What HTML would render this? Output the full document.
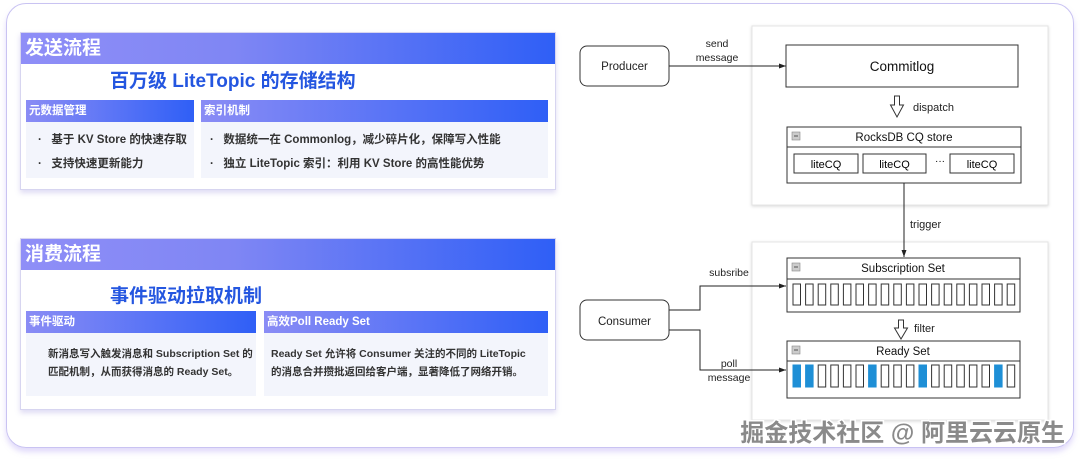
<!DOCTYPE html>
<html><head><meta charset="utf-8"><style>
*{margin:0;padding:0;box-sizing:border-box}
body{width:1080px;height:460px;background:#fff;position:relative;overflow:hidden;font-family:"Liberation Sans","Noto Sans CJK SC",sans-serif}
.frame{position:absolute;left:6px;top:3px;width:1068px;height:445px;border:1.5px solid #c9c3f2;border-radius:20px;box-shadow:0 4px 6px rgba(170,150,240,.35)}
.card{position:absolute;left:20px;width:536px;background:#fff;border:1px solid #d7d5f0;box-shadow:0 3px 5px rgba(150,140,220,.3)}
.hd{height:31px;background:linear-gradient(90deg,#8f8ef7,#7f86f4 40%,#2f5ff6);color:#fff;font-weight:bold;font-size:19px;line-height:31px;padding-left:4px}
.title{position:absolute;color:#2456e0;font-weight:bold;font-size:19px;white-space:nowrap}
.sh{position:absolute;height:22px;background:linear-gradient(90deg,#8a8cf5,#2f5ff6);color:#fff;font-weight:bold;font-size:11.5px;line-height:22px;padding-left:3px}
.bx{position:absolute;background:#f3f5fc}
.t{position:absolute;font-size:11.5px;font-weight:bold;color:#333;white-space:nowrap}
</style></head><body>
<div class="frame"></div>

<div class="card" style="top:32px;height:158px">
 <div class="hd">发送流程</div>
</div>
<div class="title" style="left:110px;top:66px">百万级 LiteTopic 的存储结构</div>
<div class="sh" style="left:26px;top:100px;width:168px">元数据管理</div>
<div class="sh" style="left:201px;top:100px;width:347px">索引机制</div>
<div class="bx" style="left:26px;top:122px;width:168px;height:56px"></div>
<div class="bx" style="left:201px;top:122px;width:347px;height:56px"></div>
<div class="t" style="left:38px;top:131px">·&nbsp;&nbsp;&nbsp;基于 KV Store 的快速存取</div>
<div class="t" style="left:38px;top:155px">·&nbsp;&nbsp;&nbsp;支持快速更新能力</div>
<div class="t" style="left:210px;top:131px">·&nbsp;&nbsp;&nbsp;数据统一在 Commonlog，减少碎片化，保障写入性能</div>
<div class="t" style="left:210px;top:155px">·&nbsp;&nbsp;&nbsp;独立 LiteTopic 索引：利用 KV Store 的高性能优势</div>

<div class="card" style="top:238px;height:172px">
 <div class="hd">消费流程</div>
</div>
<div class="title" style="left:110px;top:281px">事件驱动拉取机制</div>
<div class="sh" style="left:26px;top:311px;width:230px">事件驱动</div>
<div class="sh" style="left:264px;top:311px;width:284px">高效Poll Ready Set</div>
<div class="bx" style="left:26px;top:333px;width:230px;height:63px"></div>
<div class="bx" style="left:264px;top:333px;width:284px;height:63px"></div>
<div class="t" style="left:48px;top:346px;font-size:10.5px">新消息写入触发消息和 Subscription Set 的</div>
<div class="t" style="left:48px;top:364px;font-size:10.5px">匹配机制，从而获得消息的 Ready Set。</div>
<div class="t" style="left:271px;top:346px;font-size:10.5px">Ready Set 允许将 Consumer 关注的不同的 LiteTopic</div>
<div class="t" style="left:271px;top:364px;font-size:10.5px">的消息合并攒批返回给客户端，显著降低了网络开销。</div>

<svg style="position:absolute;left:0;top:0" width="1080" height="460" font-family="Liberation Sans, sans-serif">
<defs>
<marker id="a" markerWidth="8" markerHeight="8" refX="7" refY="4" orient="auto" markerUnits="userSpaceOnUse"><path d="M0,1.5 L7,4 L0,6.5z" fill="#222"/></marker>
<filter id="sh" x="-5%" y="-5%" width="110%" height="110%"><feDropShadow dx="0" dy="1" stdDeviation="1.5" flood-color="#000" flood-opacity=".15"/></filter>
</defs>
<rect x="752" y="26" width="296" height="179" fill="#fff" stroke="#e4e4e4" filter="url(#sh)"/>
<rect x="752" y="242" width="296" height="178" fill="#fff" stroke="#e4e4e4" filter="url(#sh)"/>
<rect x="580" y="46" width="89" height="40" rx="7" fill="#fff" stroke="#333"/>
<text x="624.5" y="70" font-size="11.5" text-anchor="middle" fill="#222">Producer</text>
<line x1="669" y1="66" x2="786" y2="66" stroke="#222" marker-end="url(#a)"/>
<text x="717" y="47" font-size="10.5" text-anchor="middle" fill="#222">send</text>
<text x="717" y="61" font-size="10.5" text-anchor="middle" fill="#222">message</text>
<rect x="786" y="45" width="232" height="42" fill="#fff" stroke="#333"/>
<text x="902" y="71" font-size="13.5" text-anchor="middle" fill="#111">Commitlog</text>
<path d="M894.5,96 h5 v9 h4 l-6.5,12 l-6.5,-12 h4z" fill="#fff" stroke="#333"/>
<text x="913" y="111" font-size="11" fill="#222">dispatch</text>
<rect x="787" y="127" width="234" height="56" fill="#fff" stroke="#333"/>
<line x1="787" y1="147" x2="1021" y2="147" stroke="#333"/>
<rect x="792" y="132" width="8" height="8" fill="#ccc" stroke="#888" stroke-width=".6"/><line x1="794" y1="136" x2="798" y2="136" stroke="#555"/>
<text x="904" y="141" font-size="11.5" text-anchor="middle" fill="#111">RocksDB CQ store</text>
<rect x="794" y="154" width="64" height="19" fill="#fff" stroke="#333"/><text x="826" y="168" font-size="11" text-anchor="middle">liteCQ</text>
<rect x="863" y="154" width="63" height="19" fill="#fff" stroke="#333"/><text x="894.5" y="168" font-size="11" text-anchor="middle">liteCQ</text>
<text x="940" y="164" font-size="10" text-anchor="middle">···</text>
<rect x="950" y="154" width="64" height="19" fill="#fff" stroke="#333"/><text x="982" y="168" font-size="11" text-anchor="middle">liteCQ</text>
<line x1="904" y1="183" x2="904" y2="257" stroke="#222" marker-end="url(#a)"/>
<text x="910" y="228" font-size="11" fill="#222">trigger</text>

<rect x="580" y="300" width="89" height="40" rx="7" fill="#fff" stroke="#333"/>
<text x="624.5" y="325" font-size="11.5" text-anchor="middle" fill="#222">Consumer</text>
<polyline points="669,310 700,310 700,286 786,286" fill="none" stroke="#222" marker-end="url(#a)"/>
<polyline points="669,330 700,330 700,370 786,370" fill="none" stroke="#222" marker-end="url(#a)"/>
<text x="729" y="276" font-size="10.5" text-anchor="middle" fill="#222">subsribe</text>
<text x="729" y="367" font-size="10.5" text-anchor="middle" fill="#222">poll</text>
<text x="729" y="381" font-size="10.5" text-anchor="middle" fill="#222">message</text>

<rect x="787" y="258" width="233" height="54" fill="#fff" stroke="#333"/>
<line x1="787" y1="279" x2="1020" y2="279" stroke="#333"/>
<rect x="792" y="263" width="8" height="8" fill="#ccc" stroke="#888" stroke-width=".6"/><line x1="794" y1="267" x2="798" y2="267" stroke="#555"/>
<text x="903" y="272" font-size="11.5" text-anchor="middle" fill="#111">Subscription Set</text>
<g fill="#fff" stroke="#333">
<rect x="793" y="284" width="7.5" height="21"/><rect x="805.6" y="284" width="7.5" height="21"/><rect x="818.2" y="284" width="7.5" height="21"/><rect x="830.8" y="284" width="7.5" height="21"/><rect x="843.4" y="284" width="7.5" height="21"/><rect x="856" y="284" width="7.5" height="21"/><rect x="868.6" y="284" width="7.5" height="21"/><rect x="881.2" y="284" width="7.5" height="21"/><rect x="893.8" y="284" width="7.5" height="21"/><rect x="906.4" y="284" width="7.5" height="21"/><rect x="919" y="284" width="7.5" height="21"/><rect x="931.6" y="284" width="7.5" height="21"/><rect x="944.2" y="284" width="7.5" height="21"/><rect x="956.8" y="284" width="7.5" height="21"/><rect x="969.4" y="284" width="7.5" height="21"/><rect x="982" y="284" width="7.5" height="21"/><rect x="994.6" y="284" width="7.5" height="21"/><rect x="1007.2" y="284" width="7.5" height="21"/>
</g>
<path d="M898.5,320 h5 v8 h4 l-6.5,11 l-6.5,-11 h4z" fill="#fff" stroke="#333"/>
<text x="914" y="332" font-size="11" fill="#222">filter</text>
<rect x="787" y="341" width="233" height="57" fill="#fff" stroke="#333"/>
<line x1="787" y1="361" x2="1020" y2="361" stroke="#333"/>
<rect x="792" y="346" width="8" height="8" fill="#ccc" stroke="#888" stroke-width=".6"/><line x1="794" y1="350" x2="798" y2="350" stroke="#555"/>
<text x="903" y="355" font-size="11.5" text-anchor="middle" fill="#111">Ready Set</text>
<g stroke="#333">
<rect x="793" y="365" width="7.5" height="22" fill="#1e8fd6" stroke="#1e8fd6"/><rect x="805.6" y="365" width="7.5" height="22" fill="#1e8fd6" stroke="#1e8fd6"/><rect x="818.2" y="365" width="7.5" height="22" fill="#fff"/><rect x="830.8" y="365" width="7.5" height="22" fill="#fff"/><rect x="843.4" y="365" width="7.5" height="22" fill="#fff"/><rect x="856" y="365" width="7.5" height="22" fill="#fff"/><rect x="868.6" y="365" width="7.5" height="22" fill="#1e8fd6" stroke="#1e8fd6"/><rect x="881.2" y="365" width="7.5" height="22" fill="#fff"/><rect x="893.8" y="365" width="7.5" height="22" fill="#fff"/><rect x="906.4" y="365" width="7.5" height="22" fill="#fff"/><rect x="919" y="365" width="7.5" height="22" fill="#1e8fd6" stroke="#1e8fd6"/><rect x="931.6" y="365" width="7.5" height="22" fill="#fff"/><rect x="944.2" y="365" width="7.5" height="22" fill="#fff"/><rect x="956.8" y="365" width="7.5" height="22" fill="#fff"/><rect x="969.4" y="365" width="7.5" height="22" fill="#fff"/><rect x="982" y="365" width="7.5" height="22" fill="#fff"/><rect x="994.6" y="365" width="7.5" height="22" fill="#1e8fd6" stroke="#1e8fd6"/><rect x="1007.2" y="365" width="7.5" height="22" fill="#fff"/>
</g>
<text x="1065" y="441" font-size="24" font-weight="600" text-anchor="end" fill="#8a8a8a" stroke="#fff" stroke-width="3" paint-order="stroke" font-family="Liberation Sans, Noto Sans CJK SC, sans-serif">掘金技术社区 @ 阿里云云原生</text>
</svg>
</body></html>
